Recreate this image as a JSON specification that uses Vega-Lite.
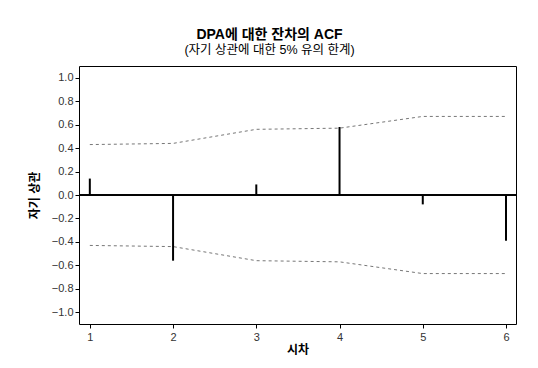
{
  "$schema": "https://vega.github.io/schema/vega-lite/v6.json",
  "width": 437,
  "height": 258,
  "autosize": {"type": "none"},
  "padding": {"left": 79, "top": 66, "right": 22, "bottom": 44},
  "background": "white",
  "title": {
    "text": "DPA에 대한 잔차의 ACF",
    "subtitle": "(자기 상관에 대한 5% 유의 한계)",
    "anchor": "middle",
    "dx": -28,
    "offset": 10,
    "font": "Liberation Sans, Noto Sans CJK KR",
    "fontSize": 14,
    "fontWeight": "bold",
    "color": "#000",
    "subtitleFont": "Liberation Sans, Noto Sans CJK KR",
    "subtitleFontSize": 12.5,
    "subtitleColor": "#000",
    "subtitlePadding": 2
  },
  "config": {
    "view": {"stroke": "#000", "strokeWidth": 1},
    "axis": {
      "grid": false,
      "domain": false,
      "tickColor": "#000",
      "tickSize": 4,
      "labelFont": "Liberation Sans",
      "labelFontSize": 11,
      "labelColor": "#333",
      "titleFont": "Liberation Sans, Noto Sans CJK KR",
      "titleFontSize": 12,
      "titleFontWeight": "bold",
      "titleColor": "#000"
    }
  },
  "data": {
    "values": [
      {"lag": 1, "acf": 0.14, "upper": 0.43, "lower": -0.43},
      {"lag": 2, "acf": -0.56, "upper": 0.44, "lower": -0.44},
      {"lag": 3, "acf": 0.09, "upper": 0.56, "lower": -0.56},
      {"lag": 4, "acf": 0.58, "upper": 0.57, "lower": -0.57},
      {"lag": 5, "acf": -0.08, "upper": 0.67, "lower": -0.67},
      {"lag": 6, "acf": -0.39, "upper": 0.67, "lower": -0.67}
    ]
  },
  "encoding": {
    "x": {
      "field": "lag",
      "type": "quantitative",
      "scale": {"domain": [0.87, 6.12], "nice": false, "zero": false},
      "axis": {"values": [1, 2, 3, 4, 5, 6], "tickCount": 6, "format": "d", "title": "시차", "titlePadding": 2, "labelPadding": 3, "labelOverlap": false}
    },
    "y": {
      "field": "upper",
      "type": "quantitative",
      "scale": {"domain": [-1.1, 1.1], "nice": false},
      "axis": {"values": [-1, -0.8, -0.6, -0.4, -0.2, 0, 0.2, 0.4, 0.6, 0.8, 1], "tickCount": 11, "format": ".1f", "title": "자기 상관", "titlePadding": 10, "labelOverlap": false}
    }
  },
  "layer": [
    {
      "mark": {"type": "line", "color": "#777", "strokeWidth": 1, "strokeDash": [3, 3]}
    },
    {
      "mark": {"type": "line", "color": "#777", "strokeWidth": 1, "strokeDash": [3, 3]},
      "encoding": {"y": {"field": "lower", "type": "quantitative"}}
    },
    {
      "mark": {"type": "rule", "color": "#000", "strokeWidth": 1},
      "encoding": {
        "x": {"datum": 0.87, "type": "quantitative"},
        "x2": {"datum": 6.12},
        "y": {"datum": 0, "type": "quantitative"}
      }
    },
    {
      "mark": {"type": "rule", "color": "#000", "strokeWidth": 2},
      "encoding": {
        "y": {"field": "acf", "type": "quantitative"},
        "y2": {"datum": 0}
      }
    }
  ]
}
